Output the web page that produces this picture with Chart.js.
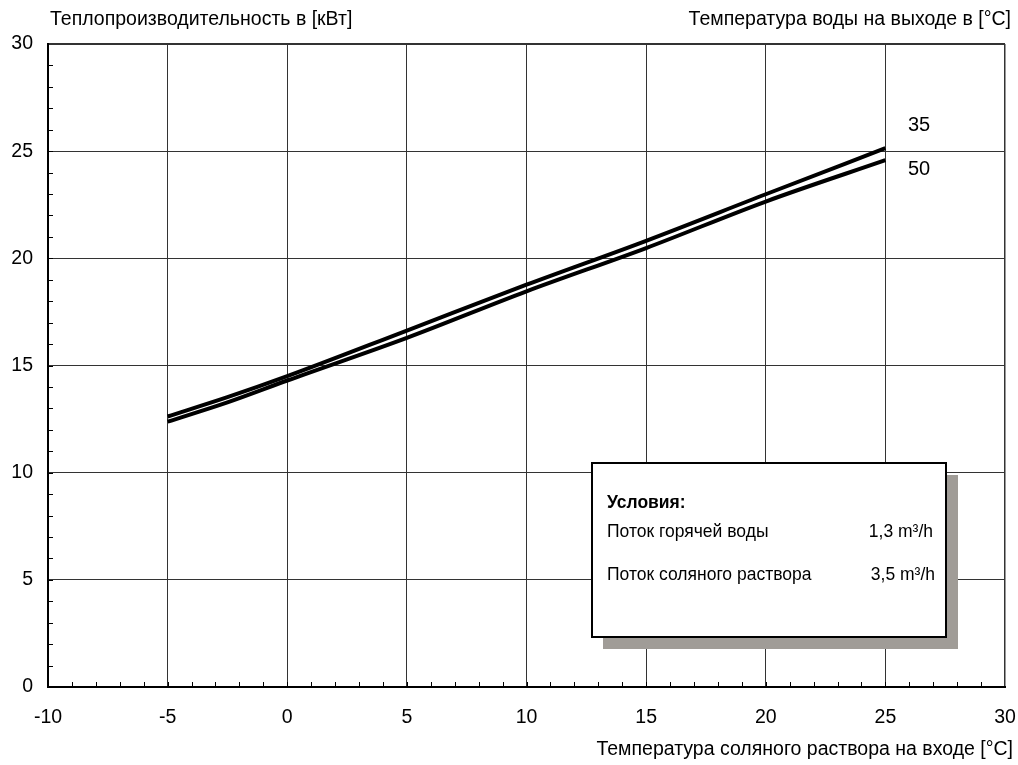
<!DOCTYPE html>
<html lang="ru">
<head>
  <meta charset="UTF-8" />
  <title>Теплопроизводительность</title>
  <script src="https://cdn.jsdelivr.net/npm/chart.js"></script>
  <style>
    * { margin: 0; padding: 0; box-sizing: border-box; }
    body { background: #fff; }
    .wrap { width: 1018px; height: 765px; position: relative; }
  </style>
</head>
<body>
  <div class="wrap"><canvas id="chart"></canvas></div>

  <script>
    // data
    const brineTemp = [-5, -2.5, 0, 5, 10, 15, 20, 25];
    const out35 = [12.62, 13.52, 14.5, 16.63, 18.77, 20.82, 22.99, 25.14];
    const out50 = [12.38, 13.28, 14.3, 16.29, 18.46, 20.48, 22.65, 24.58];
    const seriesNames = ['35', '50'];
    const xTicks = [-10, -5, 0, 5, 10, 15, 20, 25, 30];
    const yTicks = [0, 5, 10, 15, 20, 25, 30];

    const FONT = "'Liberation Sans', Arial, sans-serif";
    Chart.defaults.font.family = FONT;
    Chart.defaults.color = '#000';

    const toPoints = (ys) => brineTemp.map((x, i) => ({ x: x, y: ys[i] }));

    // titles, minor ticks, series labels and the conditions box
    const extras = {
      id: 'extras',
      afterDraw(chart) {
        const ctx = chart.ctx;
        const xs = chart.scales.x, ys = chart.scales.y;
        const area = chart.chartArea;
        ctx.save();

        // minor ticks pointing inward
        ctx.strokeStyle = '#000';
        ctx.lineWidth = 1;
        ctx.beginPath();
        for (let v = xs.min + 1; v < xs.max; v++) {
          const px = Math.round(xs.getPixelForValue(v)) + 0.5;
          ctx.moveTo(px, area.bottom);
          ctx.lineTo(px, area.bottom - 5);
        }
        for (let v = ys.min + 1; v < ys.max; v++) {
          const py = Math.round(ys.getPixelForValue(v)) + 0.5;
          ctx.moveTo(area.left, py);
          ctx.lineTo(area.left + 5, py);
        }
        ctx.stroke();

        ctx.fillStyle = '#000';
        ctx.textBaseline = 'middle';
        ctx.font = '19.5px ' + FONT;
        ctx.textAlign = 'left';
        ctx.fillText('Теплопроизводительность в [кВт]', 50, 20);
        ctx.textAlign = 'right';
        ctx.fillText('Температура воды на выходе в [°C]', 1011, 20);
        ctx.fillText('Температура соляного раствора на входе [°C]', 1013, 750);

        // series labels at the line ends
        ctx.font = '20px ' + FONT;
        ctx.textAlign = 'left';
        ctx.fillText(seriesNames[0], 908, 125);
        ctx.fillText(seriesNames[1], 908, 169);

        // conditions box
        ctx.fillStyle = '#a09c97';
        ctx.fillRect(603, 475, 355, 174);
        ctx.fillStyle = '#fff';
        ctx.fillRect(592, 463, 354, 174);
        ctx.strokeStyle = '#000';
        ctx.lineWidth = 2;
        ctx.strokeRect(592, 463, 354, 174);

        ctx.fillStyle = '#000';
        ctx.font = 'bold 17.5px ' + FONT;
        ctx.textAlign = 'left';
        ctx.fillText('Условия:', 607, 503);
        ctx.font = '17.5px ' + FONT;
        ctx.fillText('Поток горячей воды', 607, 532);
        ctx.fillText('Поток соляного раствора', 607, 575);
        ctx.textAlign = 'right';
        ctx.fillText('1,3 m³/h', 933, 532);
        ctx.fillText('3,5 m³/h', 935, 575);
        ctx.restore();
      }
    };

    new Chart(document.getElementById('chart'), {
      type: 'scatter',
      data: {
        datasets: [
          { label: seriesNames[0], data: toPoints(out35), showLine: true, borderColor: '#000', borderWidth: 4, pointRadius: 0, cubicInterpolationMode: 'monotone', fill: false },
          { label: seriesNames[1], data: toPoints(out50), showLine: true, borderColor: '#000', borderWidth: 4, pointRadius: 0, cubicInterpolationMode: 'monotone', fill: false }
        ]
      },
      options: {
        responsive: true,
        maintainAspectRatio: false,
        animation: false,
        layout: { padding: { top: 44, right: 0, left: 0, bottom: 0 } },
        plugins: { legend: { display: false }, tooltip: { enabled: false } },
        scales: {
          x: {
            type: 'linear',
            min: xTicks[0],
            max: xTicks[xTicks.length - 1],
            afterBuildTicks: (s) => { s.ticks = xTicks.map(v => ({ value: v })); },
            afterFit: (s) => { s.height = 78; s.paddingRight = 13; },
            ticks: { font: { size: 19.5 }, padding: 19, color: '#000' },
            grid: {
              drawTicks: false,
              color: '#333',
              lineWidth: (c) => (c.tick && c.tick.value === xTicks[xTicks.length - 1]) ? 1.5 : 1
            },
            border: { color: '#000', width: 2 }
          },
          y: {
            min: yTicks[0],
            max: yTicks[yTicks.length - 1],
            afterBuildTicks: (s) => { s.ticks = yTicks.map(v => ({ value: v })); },
            afterFit: (s) => { s.width = 48; },
            ticks: { font: { size: 19.5 }, padding: 15, color: '#000' },
            grid: {
              drawTicks: false,
              color: '#333',
              lineWidth: (c) => (c.tick && c.tick.value === yTicks[yTicks.length - 1]) ? 2 : 1
            },
            border: { color: '#000', width: 2 }
          }
        }
      },
      plugins: [extras]
    });
  </script>
</body>
</html>
